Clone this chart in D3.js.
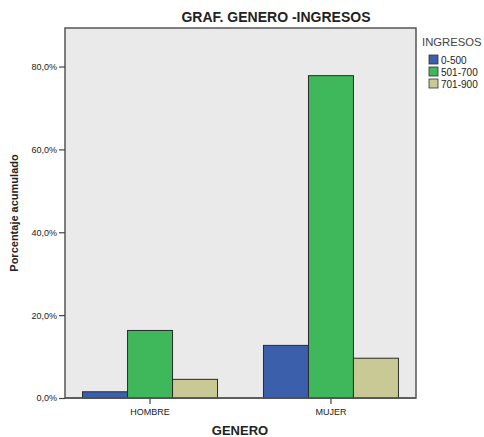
<!DOCTYPE html>
<html>
<head>
<meta charset="utf-8">
<script src="https://cdn.jsdelivr.net/npm/d3@7"></script>
<style>
  body { margin: 0; background: #fff; }
  svg { display: block; font-family: Arial, "Liberation Sans", sans-serif; }
</style>
</head>
<body>
<svg id="chart" width="484" height="437"></svg>
<script>
const categories = ["HOMBRE", "MUJER"];
const seriesNames = ["0-500", "501-700", "701-900"];
const seriesColors = ["#3c5fac", "#3eb85a", "#c9c996"];
const values = {
  "0-500":   [1.5, 12.7],
  "501-700": [16.3, 77.8],
  "701-900": [4.5, 9.6]
};
const yTicks = [0, 20, 40, 60, 80];
const title = "GRAF. GENERO -INGRESOS";
const xTitle = "GENERO";
const yTitle = "Porcentaje acumulado";
const legendTitle = "INGRESOS";

const svg = d3.select("#chart");
const plot = { left: 65, top: 28, right: 416, bottom: 398 };

const x0 = d3.scaleBand().domain(categories)
  .range([plot.left, plot.right]).paddingInner(0.254).paddingOuter(0.097);
const x1 = d3.scaleBand().domain(seriesNames).range([0, x0.bandwidth()]);
const y = d3.scaleLinear().domain([0, 89.3]).range([plot.bottom, plot.top]);
const color = d3.scaleOrdinal().domain(seriesNames).range(seriesColors);

// plot background
svg.append("rect")
  .attr("x", plot.left).attr("y", plot.top)
  .attr("width", plot.right - plot.left).attr("height", plot.bottom - plot.top)
  .attr("fill", "#eaeaea").attr("stroke", "#555").attr("stroke-width", 1.5);

// bars
const groups = svg.append("g").selectAll("g").data(categories).join("g")
  .attr("transform", d => `translate(${x0(d)},0)`);
groups.selectAll("rect")
  .data((c, i) => seriesNames.map(s => ({ s, v: values[s][i] })))
  .join("rect")
  .attr("x", d => x1(d.s))
  .attr("y", d => y(d.v))
  .attr("width", x1.bandwidth())
  .attr("height", d => y(0) - y(d.v))
  .attr("fill", d => color(d.s))
  .attr("stroke", "#2a2a2a").attr("stroke-width", 1);

// y axis
const yAxis = d3.axisLeft(y).tickValues(yTicks).tickSize(6).tickPadding(2)
  .tickFormat(d => d3.format(".1f")(d).replace(".", ",") + "%");
const gy = svg.append("g").attr("transform", `translate(${plot.left},0)`).call(yAxis);
gy.select(".domain").remove();
gy.selectAll(".tick line").attr("stroke", "#444").attr("stroke-width", 1.2);
gy.selectAll(".tick text").attr("font-size", 9).attr("fill", "#222")
  .attr("font-family", "Arial, 'Liberation Sans', sans-serif");

// x axis
const xAxis = d3.axisBottom(x0).tickSize(6).tickPadding(5);
const gx = svg.append("g").attr("transform", `translate(0,${plot.bottom})`).call(xAxis);
gx.select(".domain").remove();
gx.selectAll(".tick line").attr("stroke", "#444").attr("stroke-width", 1.2);
gx.selectAll(".tick text").attr("font-size", 9).attr("fill", "#222")
  .attr("font-family", "Arial, 'Liberation Sans', sans-serif");

// redraw bottom frame line over bars
svg.append("line")
  .attr("x1", plot.left).attr("x2", plot.right)
  .attr("y1", plot.bottom).attr("y2", plot.bottom)
  .attr("stroke", "#555").attr("stroke-width", 1.5);

// title
svg.append("text").attr("x", 276).attr("y", 22).attr("text-anchor", "middle")
  .attr("font-size", 14).attr("font-weight", "bold").attr("fill", "#222").text(title);

// x title
svg.append("text").attr("x", 240).attr("y", 435).attr("text-anchor", "middle")
  .attr("font-size", 13).attr("font-weight", "bold").attr("fill", "#222").text(xTitle);

// y title
svg.append("text").attr("transform", "translate(18,213) rotate(-90)")
  .attr("text-anchor", "middle")
  .attr("font-size", 11).attr("font-weight", "bold").attr("fill", "#222").text(yTitle);

// legend
svg.append("text").attr("x", 422).attr("y", 46)
  .attr("font-size", 11.3).attr("fill", "#444").text(legendTitle);
const leg = svg.append("g").selectAll("g").data(seriesNames).join("g")
  .attr("transform", (d, i) => `translate(429,${55 + i * 12})`);
leg.append("rect").attr("width", 9).attr("height", 9)
  .attr("fill", d => color(d)).attr("stroke", "#333").attr("stroke-width", 0.8);
leg.append("text").attr("x", 12).attr("y", 8.5)
  .attr("font-size", 10).attr("fill", "#222").text(d => d);
</script>
</body>
</html>
